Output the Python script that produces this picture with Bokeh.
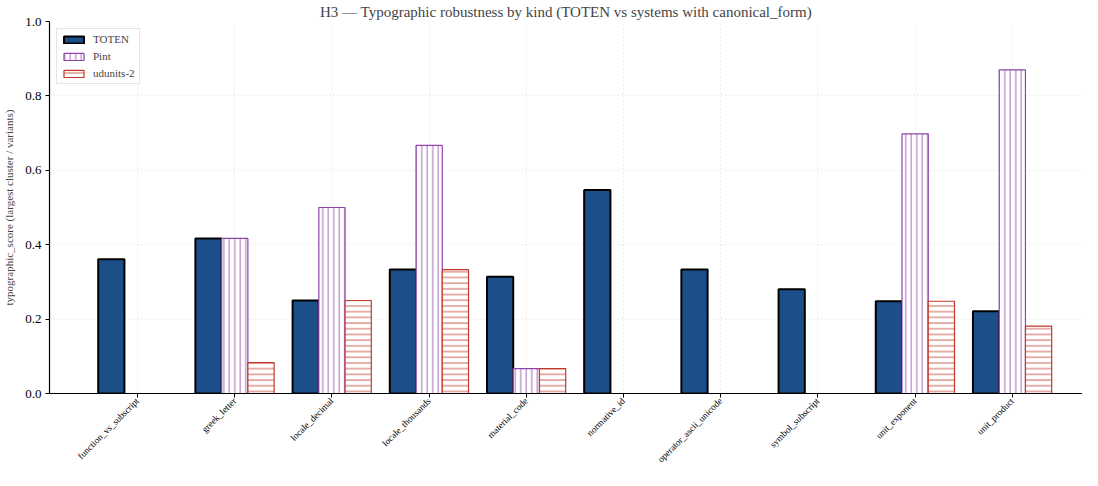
import numpy as np
from bokeh.plotting import figure
from bokeh.models import ColumnDataSource, Range1d, FixedTicker, Legend, LegendItem, PrintfTickFormatter
from bokeh.transform import dodge
from bokeh.embed import file_html
from bokeh.resources import INLINE
from math import pi

kinds = ["function_vs_subscript", "greek_letter", "locale_decimal", "locale_thousands",
         "material_code", "normative_id", "operator_ascii_unicode", "symbol_subscript",
         "unit_exponent", "unit_product"]
toten = [0.361, 0.417, 0.25, 0.333, 0.314, 0.547, 0.333, 0.28, 0.248, 0.221]
pint = [0.0, 0.417, 0.5, 0.667, 0.067, 0.0, 0.0, 0.0, 0.698, 0.870]
udunits = [0.0, 0.083, 0.25, 0.333, 0.067, 0.0, 0.0, 0.0, 0.248, 0.181]
y_ticks = [0.0, 0.2, 0.4, 0.6, 0.8, 1.0]

FONT = "Liberation Serif"
W = 0.27
xs = list(range(len(kinds)))

src = ColumnDataSource(dict(x=xs, toten=toten, pint=pint, udunits=udunits))

p = figure(width=1082, height=470, output_backend="svg", toolbar_location=None,
           x_range=Range1d(-0.906, 9.722), y_range=Range1d(0, 1.0),
           title="H3 \u2014 Typographic robustness by kind (TOTEN vs systems with canonical_form)",
           min_border_left=0, min_border_right=0, min_border_top=0, min_border_bottom=0)

p.title.align = "center"
p.title.text_font = FONT
p.title.text_font_size = "15px"
p.title.text_font_style = "normal"
p.title.standoff = 3

r1 = p.vbar(x=dodge("x", -W, range=p.x_range), top="toten", width=W, source=src,
            fill_color="#1c4f8a", line_color="black", line_width=2)
r2 = p.vbar(x=dodge("x", 0.0, range=p.x_range), top="pint", width=W, source=src,
            fill_color="white", line_color="#8e44ad", line_width=1.2,
            hatch_pattern="|", hatch_color="#8e44ad", hatch_scale=5.5,
            hatch_weight=1, hatch_alpha=0.8)
r3 = p.vbar(x=dodge("x", W, range=p.x_range), top="udunits", width=W, source=src,
            fill_color="white", line_color="#c0392b", line_width=1.2,
            hatch_pattern="-", hatch_color="#c0392b", hatch_scale=5.7,
            hatch_weight=1, hatch_alpha=0.8)

legend = Legend(items=[LegendItem(label="TOTEN", renderers=[r1]),
                       LegendItem(label="Pint", renderers=[r2]),
                       LegendItem(label="udunits-2", renderers=[r3])],
                location="top_left")
legend.label_text_font = FONT
legend.label_text_font_size = "11px"
legend.glyph_width = 25
legend.glyph_height = 9
legend.label_height = 12
legend.spacing = 5
legend.padding = 4
legend.margin = 7
legend.label_standoff = 7
legend.border_line_color = "#cccccc"
legend.border_line_width = 1
p.add_layout(legend)

p.xaxis.ticker = FixedTicker(ticks=xs)
p.xaxis.major_label_overrides = {i: k for i, k in enumerate(kinds)}
p.xaxis.major_label_orientation = pi / 4
p.xaxis.major_label_text_font = FONT
p.xaxis.major_label_text_font_size = "9.3px"
p.xaxis.major_label_text_line_height = 0.4
p.xaxis.major_label_standoff = 2
p.yaxis.ticker = FixedTicker(ticks=y_ticks)
p.yaxis.formatter = PrintfTickFormatter(format="%.1f")
p.yaxis.major_label_text_font = FONT
p.yaxis.major_label_text_font_size = "13px"
p.yaxis.major_label_standoff = 4
p.yaxis.axis_label = "typographic_score (largest cluster / variants)"
p.yaxis.axis_label_text_font = FONT
p.yaxis.axis_label_text_font_size = "11px"
p.yaxis.axis_label_text_font_style = "normal"
p.yaxis.axis_label_standoff = 7
for ax in (p.xaxis[0], p.yaxis[0]):
    ax.axis_line_color = "black"
    ax.axis_line_width = 1.2
    ax.major_tick_line_color = "black"
    ax.major_tick_in = 0
    ax.major_tick_out = 4
    ax.minor_tick_line_color = None
    ax.major_label_text_color = "black"

p.outline_line_color = None
p.xgrid.grid_line_color = "#dddddd"
p.ygrid.grid_line_color = "#dddddd"
p.xgrid.grid_line_dash = "1 3"
p.ygrid.grid_line_dash = "1 3"

open("out.html", "w").write(file_html(p, INLINE))
